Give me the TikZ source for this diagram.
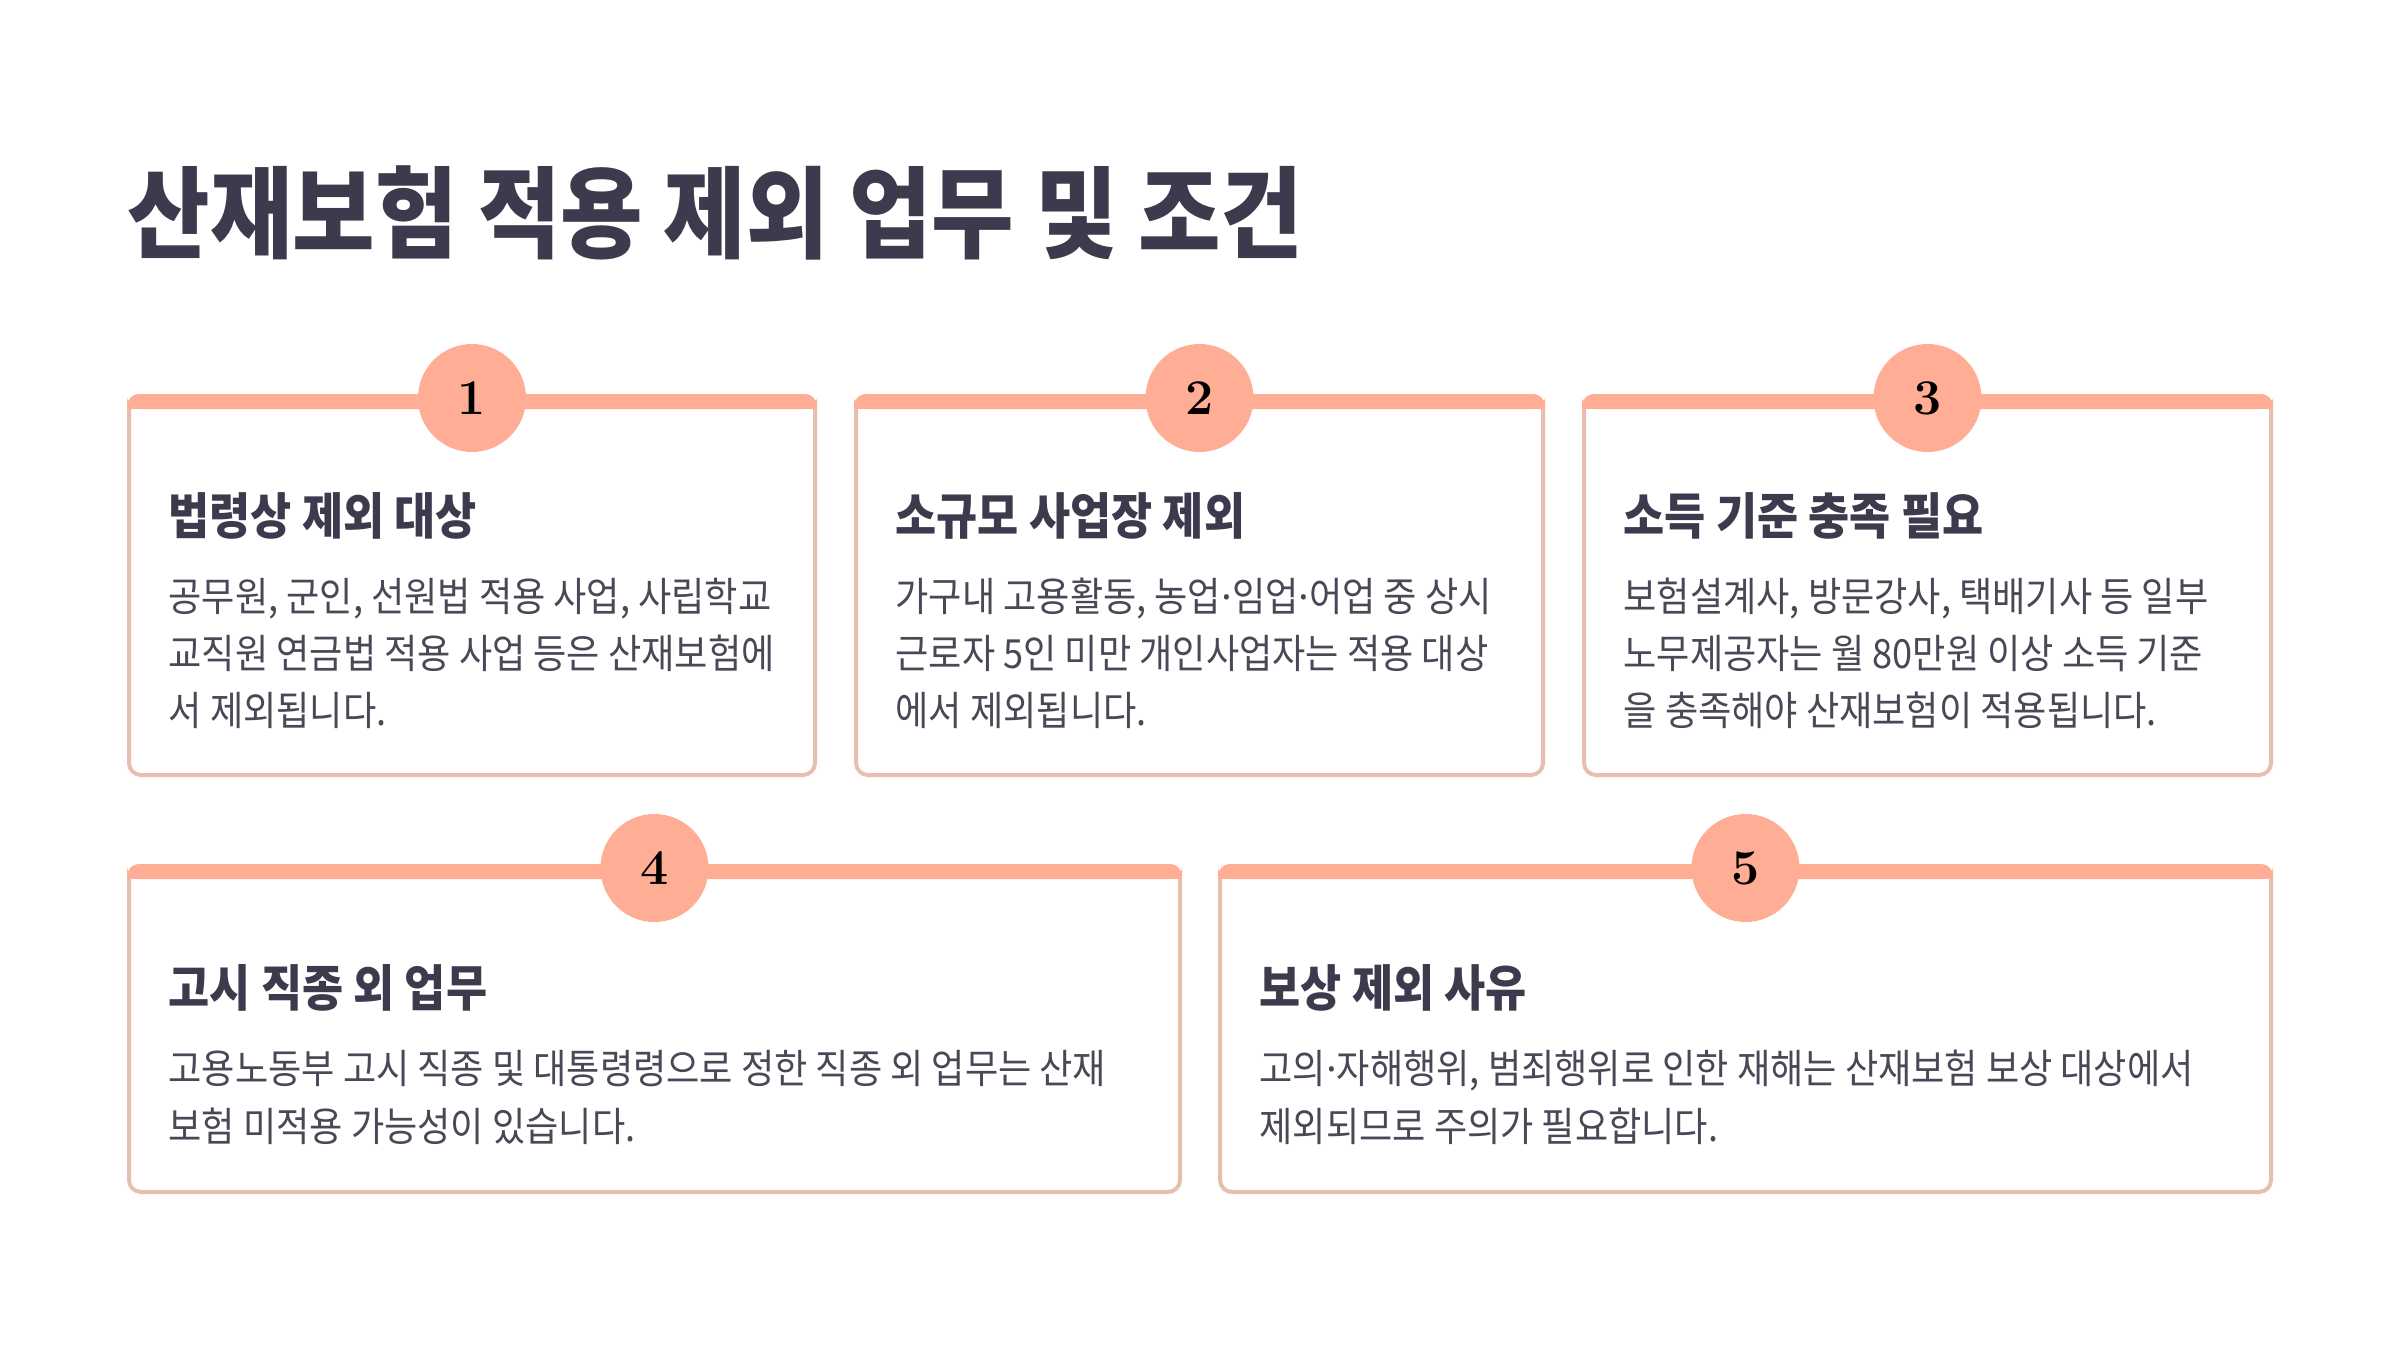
\documentclass[tikz,border=0pt]{standalone}
\usepackage{fontspec}
\newfontfamily\krfont[FakeStretch=0.9]{Noto Sans CJK KR}
\newfontfamily\latfont{Noto Sans}
\newcommand\mdot{{\latfont ·}}
\definecolor{accent}{HTML}{FFAD94}
\definecolor{cardline}{HTML}{E6BFB1}
\definecolor{titlecol}{HTML}{3D3A4E}
\definecolor{bodycol}{HTML}{4A4756}
\newcommand\cardshape[4]{%
  \draw[cardline, line width=1.2pt, rounded corners=3.6pt] ({#1+2},{#2+2}) rectangle ({#3-2},{#4-2});
  \fill[accent, rounded corners=3.6pt] (#1,#2) rectangle (#3,{#2+15});
  \fill[accent] (#1,{#2+8}) rectangle (#3,{#2+15});
}
\begin{document}
\begin{tikzpicture}[x=0.3pt,y=-0.3pt,
  titletext/.style={anchor=base west, inner sep=0pt, text=titlecol, font=\krfont\bfseries\fontsize{29.9pt}{33pt}\selectfont},
  headtext/.style={anchor=base west, inner sep=0pt, text=titlecol, font=\krfont\bfseries\fontsize{14.9pt}{17pt}\selectfont},
  bodytext/.style={anchor=base west, inner sep=0pt, text=bodycol, font=\krfont\fontsize{12.05pt}{14pt}\selectfont},
  numcircle/.style={circle, fill=accent, minimum size=32.4pt, inner sep=0pt, text=black, font=\bfseries\fontsize{15pt}{18pt}\selectfont}]
\useasboundingbox (0,0) rectangle (2400,1350);
\fill[white] (0,0) rectangle (2400,1350);

\node[titletext] (title) at (127,250) {산재보험 적용 제외 업무 및 조건};

% row 1
\cardshape{127}{394}{817}{777}
\cardshape{854}{394}{1545}{777}
\cardshape{1582}{394}{2273}{777}
% row 2
\cardshape{127}{864}{1182}{1194}
\cardshape{1218}{864}{2273}{1194}

\node[numcircle] (n1) at (472,398) {1};
\node[numcircle] (n2) at (1199.5,398) {2};
\node[numcircle] (n3) at (1927.5,398) {3};
\node[numcircle] (n4) at (654.5,868) {4};
\node[numcircle] (n5) at (1745.5,868) {5};

% card 1
\node[headtext] (h1) at (168,534) {법령상 제외 대상};
\node[bodytext] (b1a) at (168,611) {공무원, 군인, 선원법 적용 사업, 사립학교};
\node[bodytext] (b1b) at (168,668) {교직원 연금법 적용 사업 등은 산재보험에};
\node[bodytext] (b1c) at (168,725) {서 제외됩니다.};
% card 2
\node[headtext] (h2) at (895,534) {소규모 사업장 제외};
\node[bodytext] (b2a) at (895,611) {가구내 고용활동, 농업\mdot 임업\mdot 어업 중 상시};
\node[bodytext] (b2b) at (895,668) {근로자 5인 미만 개인사업자는 적용 대상};
\node[bodytext] (b2c) at (895,725) {에서 제외됩니다.};
% card 3
\node[headtext] (h3) at (1623,534) {소득 기준 충족 필요};
\node[bodytext] (b3a) at (1623,611) {보험설계사, 방문강사, 택배기사 등 일부};
\node[bodytext] (b3b) at (1623,668) {노무제공자는 월 80만원 이상 소득 기준};
\node[bodytext] (b3c) at (1623,725) {을 충족해야 산재보험이 적용됩니다.};
% card 4
\node[headtext] (h4) at (168,1006) {고시 직종 외 업무};
\node[bodytext] (b4a) at (168,1083) {고용노동부 고시 직종 및 대통령령으로 정한 직종 외 업무는 산재};
\node[bodytext] (b4b) at (168,1141) {보험 미적용 가능성이 있습니다.};
% card 5
\node[headtext] (h5) at (1259,1006) {보상 제외 사유};
\node[bodytext] (b5a) at (1259,1083) {고의\mdot 자해행위, 범죄행위로 인한 재해는 산재보험 보상 대상에서};
\node[bodytext] (b5b) at (1259,1141) {제외되므로 주의가 필요합니다.};
\end{tikzpicture}
\end{document}
